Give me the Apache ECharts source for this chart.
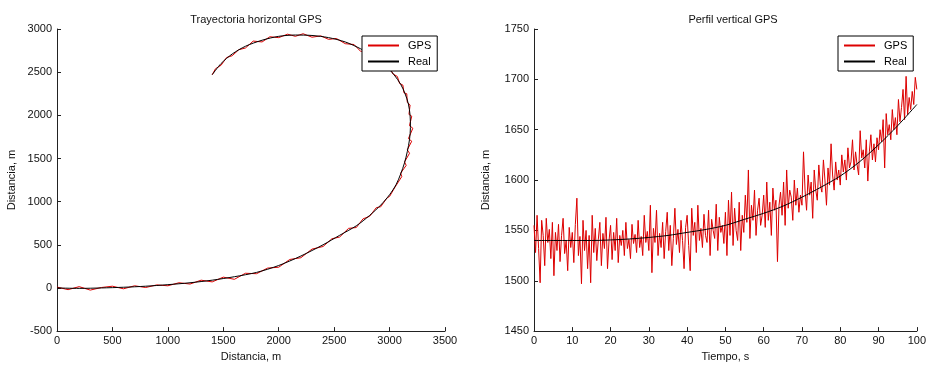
<!DOCTYPE html>
<html>
<head>
<meta charset="utf-8">
<script src="https://cdn.jsdelivr.net/npm/echarts@6/dist/echarts.min.js"></script>
<style>html,body{margin:0;padding:0;background:#fff;}#c{width:929px;height:367px;}</style>
</head>
<body>
<div id="c"></div>
<script>
// ---- Left: horizontal trajectory ----
const realX = [0,200,400,600,800,1000,1200,1400,1600,1800,2000,2200,2400,2550,2700,2820,2920,3000,3060,3100,3135,3160,3180,3188,3185,3170,3140,3100,3040,2960,2860,2740,2600,2450,2300,2150,2000,1850,1700,1580,1480,1400];
const realY = [0,-5,0,8,20,38,60,90,130,180,260,370,500,610,720,840,960,1080,1200,1320,1450,1580,1720,1860,2000,2130,2250,2360,2470,2580,2680,2770,2850,2900,2925,2930,2915,2870,2800,2710,2600,2470];
const gpsX = [0,100,200,300,400,500,600,700,800,900,1000,1100,1200,1300,1400,1500,1600,1700,1800,1900,2000,2100,2200,2300,2400,2480,2550,2630,2700,2760,2820,2880,2920,2975,3000,3050,3060,3110,3100,3150,3135,3180,3160,3200,3170,3210,3180,3200,3175,3185,3160,3155,3130,3120,3090,3070,3030,3000,2960,2900,2850,2800,2740,2680,2600,2520,2450,2380,2300,2220,2150,2080,2000,1920,1850,1770,1700,1640,1580,1530,1480,1430,1400];
const gpsY = [10,-20,15,-25,5,20,-10,25,5,35,25,60,45,90,70,125,100,170,165,230,240,330,350,450,480,570,590,690,700,800,830,930,940,1040,1060,1170,1180,1290,1330,1420,1460,1560,1600,1700,1730,1850,1880,1990,2010,2120,2150,2250,2260,2350,2370,2450,2480,2560,2570,2660,2690,2760,2740,2820,2830,2890,2880,2920,2905,2945,2915,2940,2900,2910,2850,2860,2780,2760,2690,2670,2580,2540,2470];

// ---- Right: vertical profile ----
const realT = [0,5,10,15,20,25,30,35,40,45,50,55,60,65,70,75,80,85,90,95,100];
const realZ = [1540,1540,1540,1540,1540.5,1541.5,1543,1545,1548,1551,1555,1561,1567,1574,1583,1593,1604,1618,1635,1654,1675];
const gpsStep = 0.4; // seconds between GPS samples
const gpsZ = [
1555,1528,1565,1532,1498,1560,1545,1515,1562,1538,1551,1522,1558,1505,1548,1530,1556,1519,1545,1562,1527,1540,1510,1553,1533,
1548,1518,1556,1582,1525,1544,1497,1560,1530,1550,1512,1545,1498,1565,1528,1552,1520,1541,1558,1515,1547,1532,1563,1512,1540,
1555,1521,1548,1530,1562,1518,1545,1535,1550,1525,1558,1532,1541,1522,1556,1537,1546,1528,1560,1533,1544,1525,1565,1538,1549,
1530,1575,1508,1552,1538,1570,1525,1547,1533,1558,1522,1549,1568,1530,1555,1515,1542,1572,1536,1551,1528,1560,1540,1512,1553,
1565,1535,1510,1572,1545,1558,1528,1575,1540,1552,1533,1566,1545,1538,1570,1525,1561,1550,1542,1576,1530,1563,1548,1555,1537,
1568,1525,1580,1545,1588,1535,1572,1550,1540,1578,1530,1565,1548,1585,1558,1610,1542,1575,1560,1590,1545,1570,1582,1555,1565,
1585,1553,1598,1560,1578,1545,1592,1570,1580,1519,1575,1588,1565,1598,1555,1610,1572,1590,1583,1560,1600,1575,1592,1568,1585,
1575,1628,1590,1570,1605,1585,1598,1562,1610,1590,1580,1615,1595,1588,1620,1600,1575,1612,1595,1636,1605,1590,1618,1600,1610,
1595,1625,1608,1620,1600,1632,1612,1618,1640,1610,1628,1615,1605,1649,1622,1630,1612,1640,1599,1628,1645,1620,1636,1618,1642,
1630,1650,1638,1660,1612,1666,1645,1655,1640,1670,1650,1662,1645,1680,1658,1672,1690,1660,1703,1665,1682,1670,1688,1675,1702,
1690];

const leftXTicks = [0,3500,500];
const leftYTicks = [-500,3000,500];
const rightXTicks = [0,100,10];
const rightYTicks = [1450,1750,50];

const FONT = 'Liberation Sans';
const RED = '#dd0000';
const AX = '#222';

function zip(a,b){return a.map((v,i)=>[v,b[i]]);}
const gpsPairs = gpsZ.map((v,i)=>[Math.round(i*gpsStep*10)/10, v]);
const plain = v => String(v);

function mkX(idx, t, name){
  return {type:'value', gridIndex:idx, min:t[0], max:t[1], interval:t[2],
    name:name, nameLocation:'middle', nameGap:17,
    nameTextStyle:{fontFamily:FONT,fontSize:11,color:'#111'},
    axisLine:{show:true,onZero:false,lineStyle:{color:AX,width:1}},
    axisTick:{show:true,inside:true,length:4,lineStyle:{color:AX}},
    axisLabel:{fontFamily:FONT,fontSize:11,color:'#111',margin:4,formatter:plain},
    splitLine:{show:false}};
}
function mkY(idx, t, gap){
  return {type:'value', gridIndex:idx, min:t[0], max:t[1], interval:t[2],
    name:'Distancia, m', nameLocation:'middle', nameGap:gap, nameRotate:90,
    nameTextStyle:{fontFamily:FONT,fontSize:11,color:'#111'},
    axisLine:{show:true,onZero:false,lineStyle:{color:AX,width:1}},
    axisTick:{show:true,inside:true,length:4,lineStyle:{color:AX}},
    axisLabel:{fontFamily:FONT,fontSize:11,color:'#111',margin:5,formatter:plain},
    splitLine:{show:false}};
}
function mkLegend(left){
  return {left:left, top:36, orient:'vertical', width:77,
    backgroundColor:'#fff', borderColor:'#000', borderWidth:1,
    padding:[4,6,4,6], itemGap:5, itemWidth:31, itemHeight:2,
    textStyle:{fontFamily:FONT,fontSize:11,color:'#000',padding:[0,0,0,4]},
    data:[{name:'GPS',icon:'rect',itemStyle:{color:RED}},{name:'Real',icon:'rect',itemStyle:{color:'#000'}}],
    selectedMode:false, z:10};
}

const chart = echarts.init(document.getElementById('c'), null, {renderer:'canvas'});
chart.setOption({
  backgroundColor:'#fff',
  animation:false,
  title:[
    {text:'Trayectoria horizontal GPS', left:251, top:9, textAlign:'center',
     textStyle:{fontFamily:FONT,fontSize:11,fontWeight:'normal',color:'#111'}},
    {text:'Perfil vertical GPS', left:728, top:9, textAlign:'center',
     textStyle:{fontFamily:FONT,fontSize:11,fontWeight:'normal',color:'#111'}}
  ],
  grid:[
    {left:57, top:29, width:388, height:306},
    {left:534, top:29, width:388, height:306}
  ],
  xAxis:[mkX(0,leftXTicks,'Distancia, m'), mkX(1,rightXTicks,'Tiempo, s')],
  yAxis:[mkY(0,leftYTicks,40), mkY(1,rightYTicks,43)],
  legend:[mkLegend(362), mkLegend(838)],
  series:[
    {name:'GPS', type:'line', xAxisIndex:0, yAxisIndex:0, data:zip(gpsX,gpsY),
     symbol:'none', lineStyle:{color:RED,width:1}, itemStyle:{color:RED}},
    {name:'Real', type:'line', xAxisIndex:0, yAxisIndex:0, data:zip(realX,realY),
     symbol:'none', smooth:0.3, lineStyle:{color:'#000',width:1}, itemStyle:{color:'#000'}},
    {name:'GPS', type:'line', xAxisIndex:1, yAxisIndex:1, data:gpsPairs,
     symbol:'none', lineStyle:{color:RED,width:1}, itemStyle:{color:RED}},
    {name:'Real', type:'line', xAxisIndex:1, yAxisIndex:1, data:zip(realT,realZ),
     symbol:'none', smooth:0.3, lineStyle:{color:'#000',width:1}, itemStyle:{color:'#000'}}
  ]
});
</script>
</body>
</html>
